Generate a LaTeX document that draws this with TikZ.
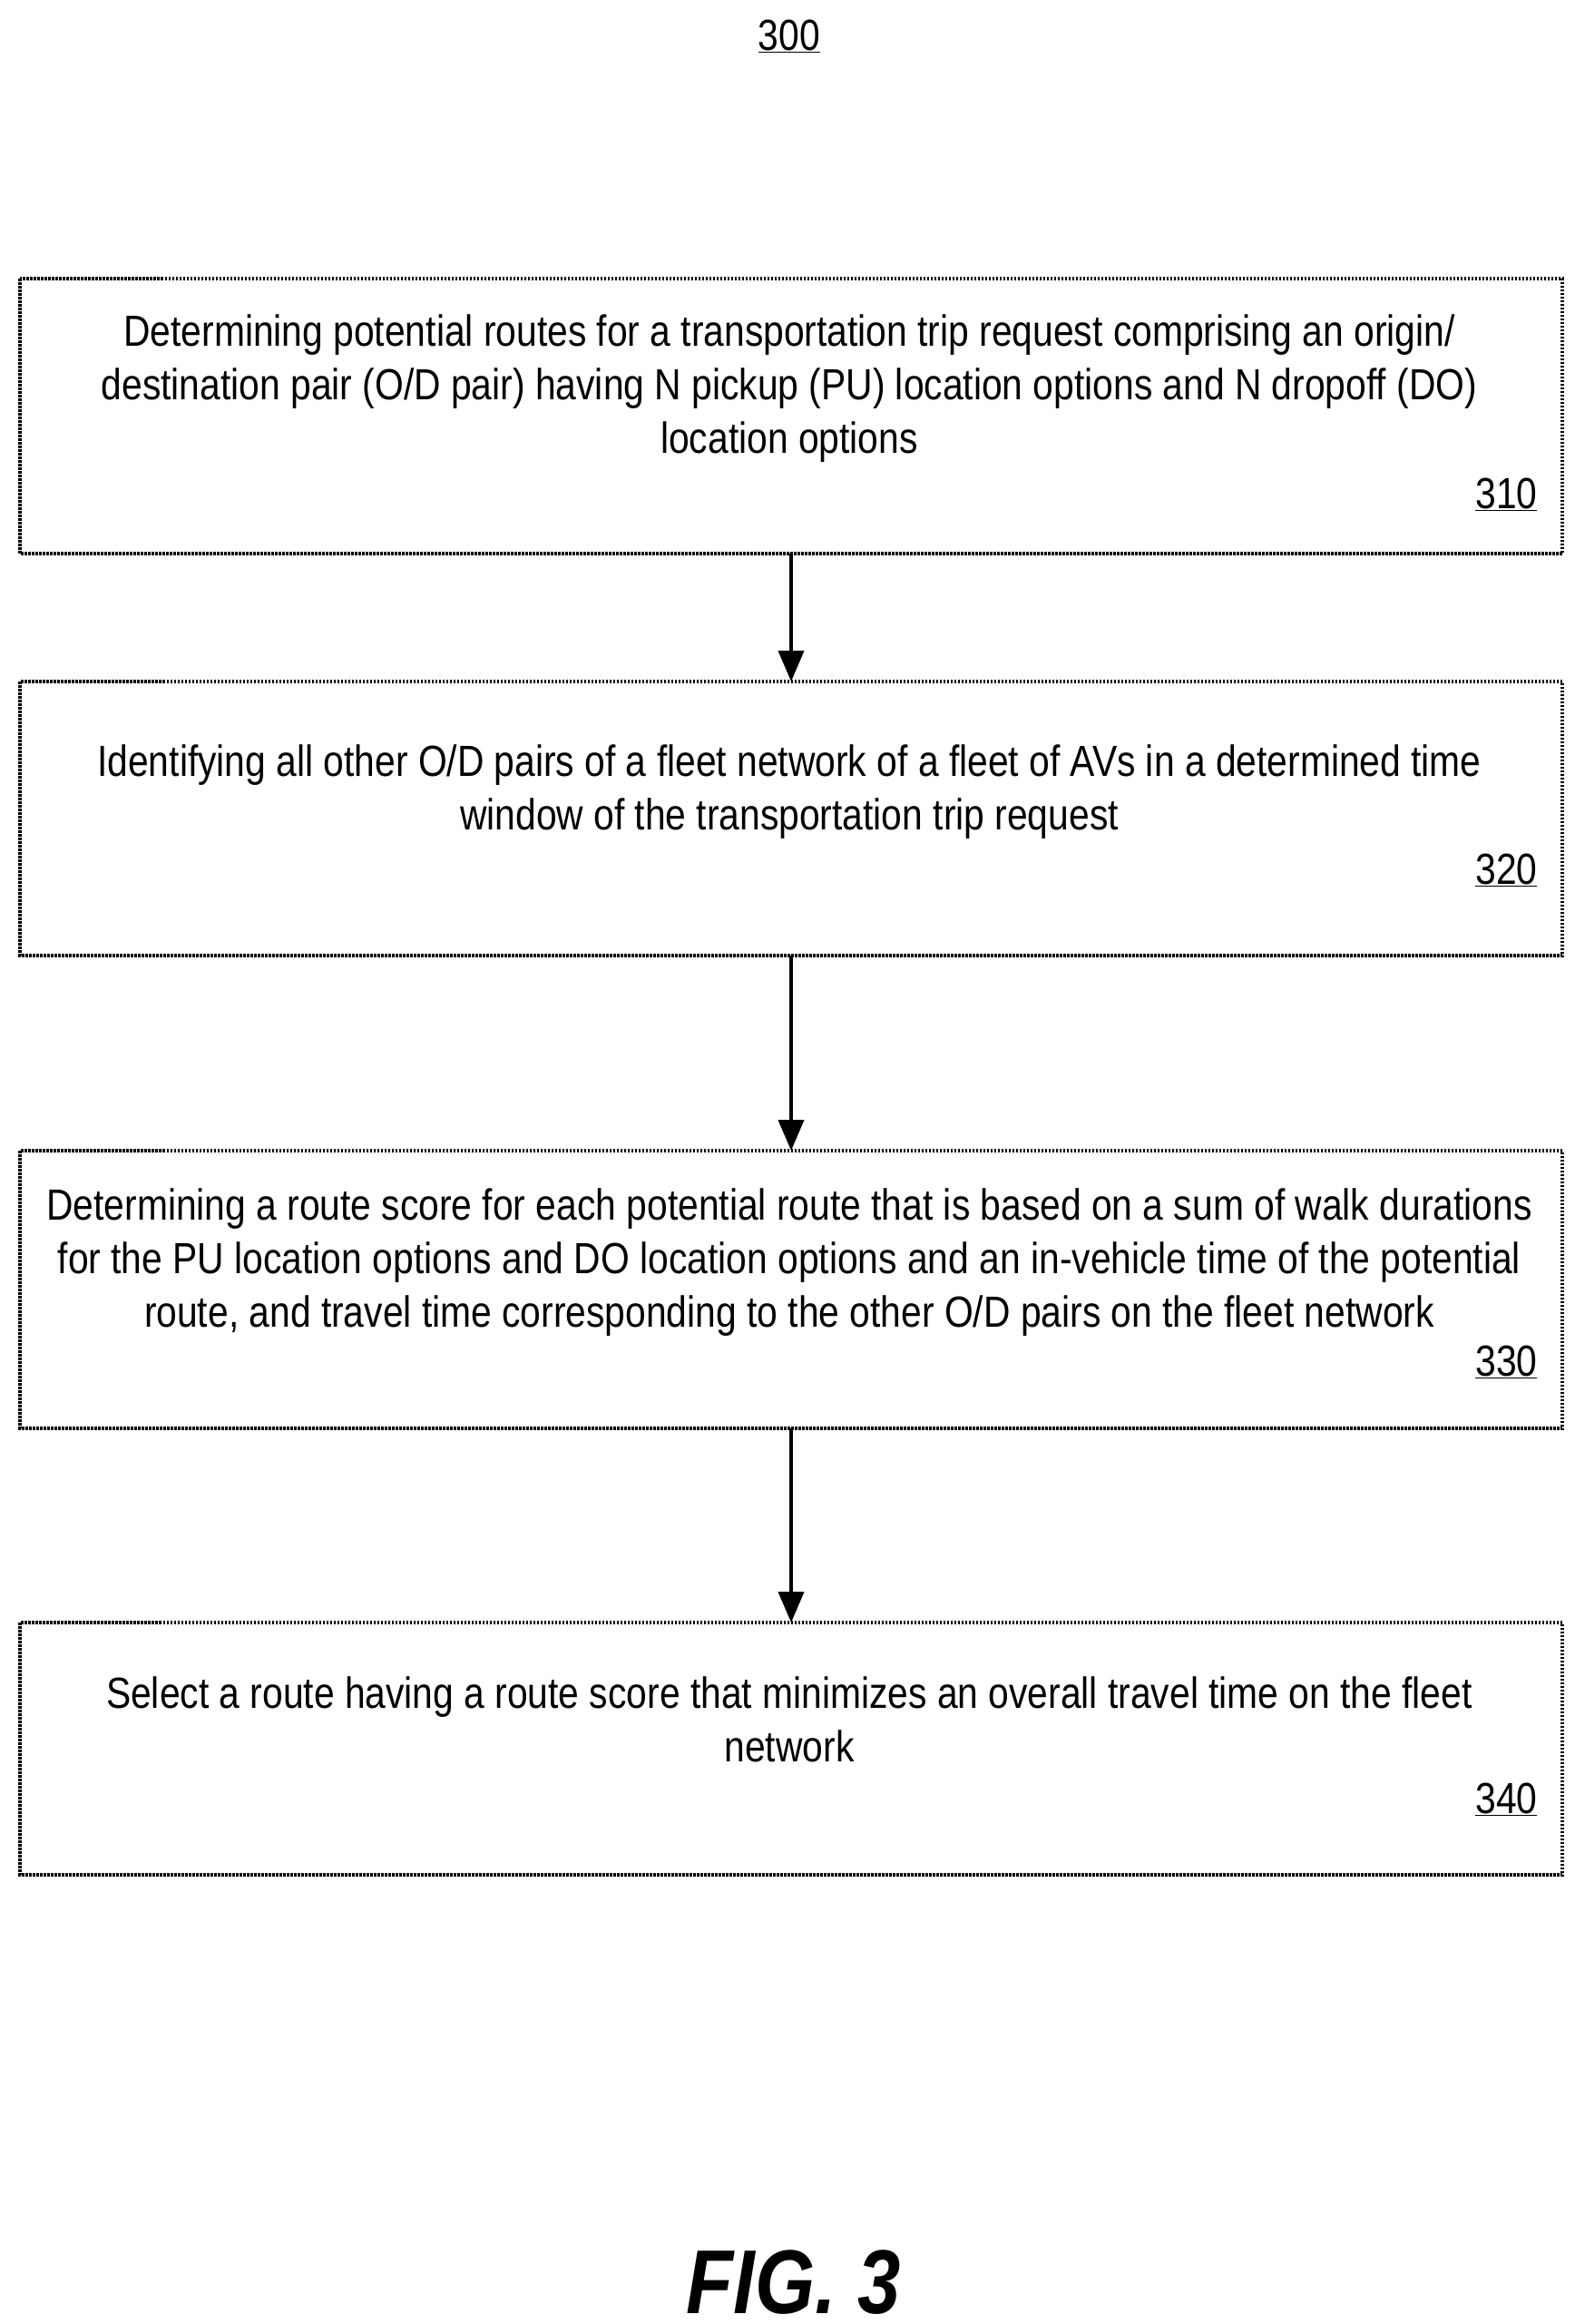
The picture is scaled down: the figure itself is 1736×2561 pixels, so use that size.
\documentclass[tikz,border=0pt]{standalone}
\usepackage{fontspec}
\setmainfont{Liberation Sans}[FakeStretch=0.85]
\usetikzlibrary{arrows.meta}
\begin{document}
\begin{tikzpicture}[x=1pt,y=-1pt,
  stepbox/.style={draw,line width=3.5pt,dash pattern=on 2.5pt off 1.5pt},
  txt/.style={align=center,font=\fontsize{48}{59}\selectfont},
  lbl/.style={font=\fontsize{48}{59}\selectfont,anchor=base east},
  arr/.style={line width=4pt,-{Triangle[length=34pt,width=28pt]}}]
\useasboundingbox (0,0) rectangle (1736,2561);
\node[font=\fontsize{48}{59}\selectfont] (t) at (870,40) {\underline{300}};
\draw[stepbox] (22,307) rectangle (1722,610);
\draw[stepbox] (22,751) rectangle (1722,1053);
\draw[stepbox] (22,1268) rectangle (1722,1574);
\draw[stepbox] (22,1788) rectangle (1722,2066);
\node[txt] (a) at (870,428) {Determining potential routes for a transportation trip request comprising an origin/\\destination pair (O/D pair) having N pickup (PU) location options and N dropoff (DO)\\location options};
\node[txt] (b) at (870,873) {Identifying all other O/D pairs of a fleet network of a fleet of AVs in a determined time\\window of the transportation trip request};
\node[txt] (c) at (870,1391) {Determining a route score for each potential route that is based on a sum of walk durations\\for the PU location options and DO location options and an in-vehicle time of the potential\\route, and travel time corresponding to the other O/D pairs on the fleet network};
\node[txt] (d) at (870,1895) {Select a route having a route score that minimizes an overall travel time on the fleet\\network};
\node[lbl] (l1) at (1698,560) {\underline{310}};
\node[lbl] (l2) at (1698,974) {\underline{320}};
\node[lbl] (l3) at (1698,1516) {\underline{330}};
\node[lbl] (l4) at (1698,1998) {\underline{340}};
\coordinate (s1) at (872,610); \coordinate (e1) at (872,751);
\coordinate (s2) at (872,1053); \coordinate (e2) at (872,1268);
\coordinate (s3) at (872,1574); \coordinate (e3) at (872,1788);
\draw[arr] (s1) -- (e1);
\draw[arr] (s2) -- (e2);
\draw[arr] (s3) -- (e3);
\node[font=\fontsize{100}{110}\selectfont\bfseries\itshape] (f) at (875,2515) {FIG. 3};
\end{tikzpicture}
\end{document}
